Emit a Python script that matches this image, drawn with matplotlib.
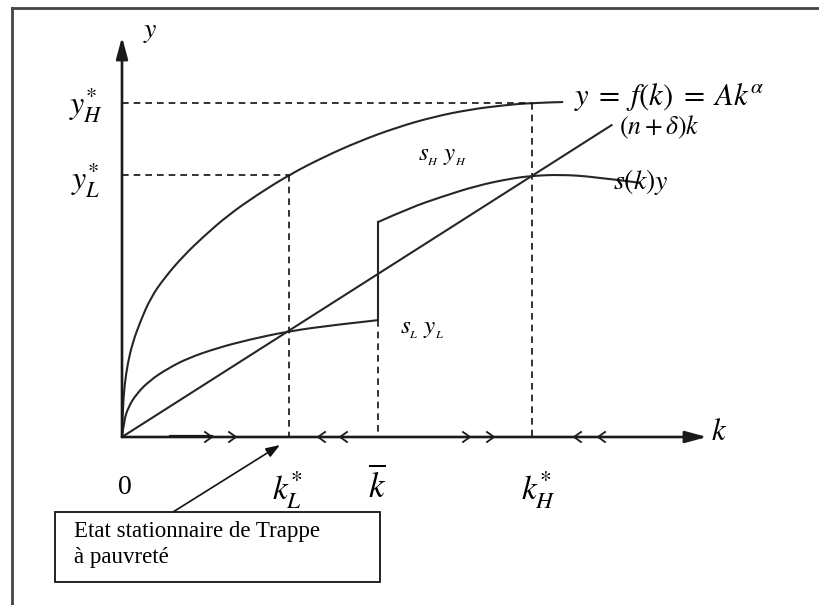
import matplotlib
matplotlib.use("Agg")
import matplotlib.pyplot as plt
from matplotlib.lines import Line2D
from matplotlib.patches import Rectangle, PathPatch
from matplotlib.path import Path

plt.rcParams["mathtext.fontset"] = "stix"
plt.rcParams["font.family"] = ["Liberation Serif", "DejaVu Serif"]

# ---- model curves (k, y) ----
k_f = [0.0, 0.02, 0.06, 0.14, 0.26, 0.44, 0.70, 1.05, 1.50, 2.00, 2.60, 3.30,
       4.07, 4.90, 5.80, 6.70, 7.60, 8.50, 9.30, 10.0, 10.76]
y_f = [0.0, 0.70, 1.25, 1.80, 2.30, 2.80, 3.40, 3.90, 4.42, 4.90, 5.42, 5.91,
       6.39, 6.82, 7.22, 7.55, 7.81, 7.99, 8.09, 8.15, 8.17]

k_sL = [0.0, 0.05, 0.15, 0.35, 0.68, 1.10, 1.60, 2.32, 3.12, 4.07, 5.15, 6.24]
y_sL = [0.0, 0.40, 0.72, 1.05, 1.38, 1.66, 1.92, 2.17, 2.38, 2.58, 2.73, 2.85]

k_sH = [6.24, 7.02, 7.83, 8.66, 9.46, 10.0, 10.68, 11.49, 12.63]
y_sH = [5.24, 5.59, 5.87, 6.13, 6.30, 6.37, 6.40, 6.35, 6.20]

n_plus_delta = 0.637
k_line_end = 11.94

k_L_star, k_bar, k_H_star = 4.07, 6.24, 10.0
y_L_star, y_H_star = 6.39, 8.15
y_bar_low = 2.85

# ---- figure: 41 px per model unit, origin at pixel (122, 437) ----
W, H = 820, 605
U = 41.0
OX, OY = 122, 437


def px(x, y):
    """pixel position -> model coordinates"""
    return (x - OX) / U, (OY - y) / U


def smooth(ax, ks, ys, **kw):
    """quadratic B-spline through the sampled points (endpoints kept)"""
    pts = list(zip(ks, ys))
    verts, codes = [pts[0]], [Path.MOVETO]
    for i in range(1, len(pts) - 1):
        nxt = pts[i + 1] if i == len(pts) - 2 else (
            (pts[i][0] + pts[i + 1][0]) / 2, (pts[i][1] + pts[i + 1][1]) / 2)
        verts += [pts[i], nxt]
        codes += [Path.CURVE3, Path.CURVE3]
    ax.add_patch(PathPatch(Path(verts, codes), fill=False, **kw))


fig = plt.figure(figsize=(W / 100, H / 100), dpi=100)
ax = fig.add_axes([0, 0, 1, 1])
ax.set_xlim(-OX / U, (W - OX) / U)
ax.set_ylim((OY - H) / U, OY / U)
ax.axis("off")

# outer frame (top and left edges only visible)
fr = dict(color="#444444", lw=2.0, transform=fig.transFigure)
fig.add_artist(Line2D([12 / W, 1.0], [1 - 8 / H, 1 - 8 / H], **fr))
fig.add_artist(Line2D([12 / W, 12 / W], [1 - 8 / H, 0.0], **fr))

curve = dict(color="#262626", lw=1.5)
dash = dict(color="#111111", lw=1.2, dashes=(4, 3))

# axes with arrow heads
ax_top = px(OX, 37)[1]
ax_right = px(707, OY)[0]
arr = dict(arrowstyle="-|>,head_length=1.0,head_width=0.27", color="#1a1a1a",
           lw=1.9, shrinkA=0, shrinkB=0, mutation_scale=13)
ax.annotate("", xy=(0, ax_top), xytext=(0, 0), arrowprops=arr)
ax.annotate("", xy=(ax_right, 0), xytext=(0, 0), arrowprops=arr)

# dashed guides
ax.plot([0, k_H_star], [y_H_star, y_H_star], **dash)
ax.plot([k_H_star, k_H_star], [y_H_star, 0], **dash)
ax.plot([0, k_L_star], [y_L_star, y_L_star], **dash)
ax.plot([k_L_star, k_L_star], [y_L_star, 0], **dash)
ax.plot([k_bar, k_bar], [y_bar_low, 0], **dash)

# curves
smooth(ax, k_f, y_f, **curve)
smooth(ax, k_sL, y_sL, **curve)
ax.plot([k_bar, k_bar], [y_bar_low, y_sH[0]], **curve)
smooth(ax, k_sH, y_sH, **curve)
ax.plot([0, k_line_end], [0, n_plus_delta * k_line_end], **curve)

# direction chevrons on the k axis
ax.plot([px(170, 0)[0], px(212, 0)[0]], [0.03, 0.03], color="#1a1a1a", lw=1.6)
cw, ch = 7 / U, 5 / U
for xp, d in [(212, 1), (236, 1), (318, -1), (340, -1),
              (470, 1), (494, 1), (574, -1), (598, -1)]:
    x0 = px(xp, 0)[0]
    ax.plot([x0 - d * cw, x0, x0 - d * cw], [ch, 0, -ch],
            color="#1a1a1a", lw=1.3)


# labels
def lab(x, y, s, size, ha="left", va="center", **kw):
    ax.text(*px(x, y), s, fontsize=size, ha=ha, va=va, **kw)


lab(143, 33, r"$y$", 20)
lab(86, 104, r"$y^{*}_{H}$", 23, ha="center")
lab(86, 180, r"$y^{*}_{L}$", 23, ha="center")
lab(574, 97, r"$y\;=\;f(k)\;=\;Ak^{\alpha}$", 22)
lab(619, 127, r"$(n+\delta)k$", 18.5)
lab(418, 157, r"$s_{_H}\;y_{_H}$", 18)
lab(613, 182, r"$s(k)y$", 20)
lab(400, 330, r"$s_{_L}\;y_{_L}$", 18)
lab(711, 432, r"$k$", 22)
lab(125, 487, "0", 20, ha="center", family=["Liberation Serif"])
lab(287, 490, r"$k^{*}_{L}$", 24, ha="center")
lab(377, 487, r"$\overline{k}$", 25, ha="center")
lab(538, 490, r"$k^{*}_{H}$", 24, ha="center")

# annotation box
x0, y0 = px(55, 582)
x1, y1 = px(380, 512)
ax.add_patch(Rectangle((x0, y0), x1 - x0, y1 - y0, fill=False,
                       ec="#111111", lw=1.3))
lab(74, 531, "Etat stationnaire de Trappe", 16.5)
lab(74, 557, "à pauvreté", 16.5)
ax.annotate("", xy=px(280, 445), xytext=px(173, 512),
            arrowprops=dict(arrowstyle="-|>,head_length=0.7,head_width=0.25",
                            color="#111111", lw=1.2, shrinkA=0, shrinkB=0,
                            mutation_scale=12))

fig.savefig("out.png", dpi=100)
